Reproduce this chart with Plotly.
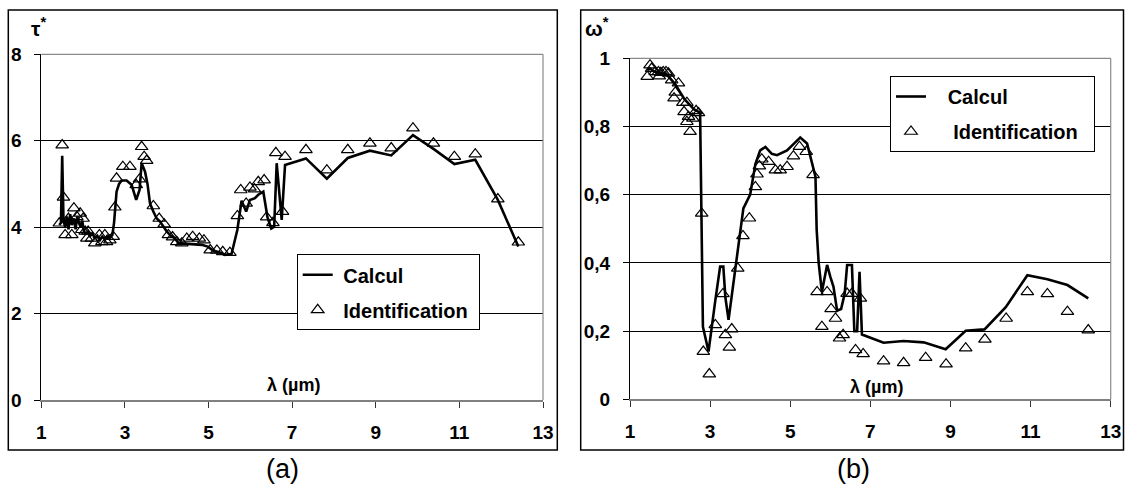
import plotly.graph_objects as go

W, H = 1125, 490

# ---------------- data : panel (a) tau* ----------------
tau_calc_x = [1.43, 1.47, 1.50, 1.53, 1.57, 1.61, 1.65, 1.69, 1.73, 1.78, 1.82, 1.86, 1.90, 1.94, 1.98,
              2.02, 2.07, 2.12, 2.17, 2.22, 2.28, 2.34, 2.40, 2.46, 2.52, 2.58, 2.64, 2.70, 2.74, 2.80,
              2.86, 2.92, 3.04, 3.16, 3.27, 3.35, 3.40, 3.48, 3.54, 3.60, 3.68, 3.76, 3.84, 3.92, 4.00,
              4.10, 4.20, 4.28, 4.40, 4.56, 4.70, 4.84, 4.98, 5.11, 5.25, 5.39, 5.55, 5.69, 5.79, 5.90,
              5.99, 6.11, 6.19, 6.31, 6.41, 6.50, 6.57, 6.63, 6.75, 6.83, 7.33, 7.83, 8.33, 8.86, 9.37,
              9.89, 10.38, 10.88, 11.38, 11.92, 12.41]
tau_calc_y = [4.05, 4.1, 5.65, 4.2, 4.0, 4.25, 3.95, 4.3, 4.05, 4.2, 3.95, 4.25, 4.1, 4.0, 4.15,
              3.9, 3.85, 3.9, 3.8, 3.85, 3.75, 3.8, 3.7, 3.78, 3.72, 3.8, 3.75, 3.82, 4.1, 4.82,
              5.0, 5.08, 5.08, 4.98, 4.63, 4.86, 5.48, 5.29, 5.0, 4.55, 4.36, 4.2, 4.13, 4.0, 3.9,
              3.8, 3.74, 3.63, 3.62, 3.6, 3.6, 3.59, 3.55, 3.46, 3.42, 3.36, 3.38, 3.94, 4.61, 4.36,
              4.63, 4.67, 4.75, 4.82, 4.23, 3.97, 4.01, 5.48, 4.17, 5.44, 5.59, 5.12, 5.6, 5.77, 5.66,
              6.13, 5.81, 5.46, 5.56, 4.63, 3.55]

tau_id_x = [1.43, 1.50, 1.53, 1.57, 1.65, 1.73, 1.78, 1.85, 1.93, 1.97, 2.00, 2.05, 2.09, 2.12, 2.20,
            2.28, 2.39, 2.45, 2.52, 2.56, 2.64, 2.72, 2.76, 2.80, 2.95, 3.12, 3.27, 3.35, 3.40, 3.46,
            3.52, 3.68, 3.82, 3.94, 4.04, 4.14, 4.24, 4.36, 4.48, 4.62, 4.78, 4.89, 5.04, 5.20, 5.34,
            5.51, 5.69, 5.77, 5.90, 5.99, 6.10, 6.19, 6.33, 6.39, 6.54, 6.61, 6.77, 6.83, 7.33, 7.83,
            8.33, 8.86, 9.37, 9.89, 10.38, 10.88, 11.38, 11.92, 12.41]
tau_id_y = [4.09, 5.90, 4.69, 3.82, 4.20, 3.82, 4.44, 4.24, 4.32, 3.94, 4.20, 3.90, 3.74, 3.90, 3.74,
            3.63, 3.82, 3.66, 3.82, 3.66, 3.70, 3.78, 4.46, 5.13, 5.40, 5.40, 4.98, 5.11, 5.86, 5.63,
            5.54, 4.49, 4.20, 4.07, 3.82, 3.77, 3.66, 3.63, 3.74, 3.78, 3.74, 3.70, 3.47, 3.46, 3.43,
            3.41, 4.26, 4.86, 4.55, 4.92, 4.88, 5.05, 5.09, 4.23, 4.10, 5.72, 4.36, 5.63, 5.79, 5.32,
            5.79, 5.94, 5.83, 6.29, 5.94, 5.63, 5.69, 4.65, 3.65]

# ---------------- data : panel (b) omega* ----------------
om_calc_x = [1.43, 1.50, 1.56, 1.63, 1.71, 1.80, 1.90, 1.98, 2.05, 2.12, 2.20, 2.28, 2.36, 2.44, 2.52,
             2.60, 2.68, 2.75, 2.82, 2.96, 3.13, 3.25, 3.33, 3.38, 3.46, 3.57, 3.63, 3.71, 3.83, 4.00,
             4.13, 4.25, 4.38, 4.54, 4.67, 4.92, 5.17, 5.25, 5.42, 5.52, 5.63, 5.66, 5.71, 5.79, 5.92,
             6.00, 6.08, 6.17, 6.27, 6.36, 6.42, 6.54, 6.60, 6.67, 6.73, 6.79, 7.33, 7.83, 8.33, 8.88,
             9.38, 9.85, 10.38, 10.92, 11.42, 11.92, 12.44]
om_calc_y = [0.965, 0.97, 0.965, 0.96, 0.958, 0.955, 0.955, 0.945, 0.935, 0.925, 0.91, 0.895, 0.88, 0.87, 0.86,
             0.85, 0.845, 0.84, 0.213, 0.14, 0.29, 0.389, 0.389, 0.30, 0.233, 0.33, 0.39, 0.46, 0.56, 0.60,
             0.69, 0.73, 0.74, 0.72, 0.716, 0.73, 0.76, 0.768, 0.75, 0.707, 0.653, 0.497, 0.40, 0.315, 0.394,
             0.36, 0.33, 0.26, 0.265, 0.31, 0.394, 0.394, 0.20, 0.20, 0.374, 0.19, 0.166, 0.171, 0.167, 0.147,
             0.201, 0.205, 0.27, 0.364, 0.352, 0.335, 0.296]

om_id_x = [1.43, 1.50, 1.54, 1.63, 1.71, 1.73, 1.77, 1.83, 1.90, 1.96, 2.04, 2.10, 2.13, 2.21, 2.32,
           2.35, 2.42, 2.42, 2.46, 2.50, 2.57, 2.65, 2.71, 2.79, 2.83, 2.98, 3.13, 3.32, 3.38, 3.48,
           3.54, 3.69, 3.82, 3.98, 4.13, 4.17, 4.23, 4.29, 4.46, 4.63, 4.75, 4.92, 5.08, 5.23, 5.40,
           5.57, 5.67, 5.79, 5.92, 6.02, 6.13, 6.23, 6.32, 6.42, 6.54, 6.63, 6.75, 6.82, 7.33, 7.83,
           8.38, 8.89, 9.38, 9.86, 10.39, 10.92, 11.42, 11.92, 12.44]
om_id_y = [0.946, 0.98, 0.97, 0.96, 0.96, 0.948, 0.958, 0.96, 0.96, 0.956, 0.936, 0.883, 0.90, 0.927, 0.87,
           0.843, 0.87, 0.814, 0.829, 0.785, 0.824, 0.846, 0.84, 0.545, 0.14, 0.074, 0.218, 0.309, 0.189, 0.152,
           0.206, 0.384, 0.479, 0.531, 0.623, 0.66, 0.684, 0.704, 0.697, 0.672, 0.672, 0.682, 0.713, 0.741, 0.726,
           0.658, 0.315, 0.213, 0.315, 0.265, 0.237, 0.179, 0.189, 0.31, 0.31, 0.145, 0.296, 0.133, 0.112, 0.107,
           0.122, 0.103, 0.15, 0.176, 0.237, 0.315, 0.309, 0.257, 0.203]

x_ticks = [1, 3, 5, 7, 9, 11, 13]
tau_ticks = [0, 2, 4, 6, 8]
tau_ticktext = ["0", "2", "4", "6", "8"]
om_ticks = [0, 0.2, 0.4, 0.6, 0.8, 1]
om_ticktext = ["0", "0,2", "0,4", "0,6", "0,8", "1"]

series_names = ["Calcul", "Identification"]

FONT = "Liberation Sans, Arial, sans-serif"
NB = "\u00a0"

def px(xp):
    return xp / W

def py(yp):
    return 1 - yp / H

fig = go.Figure()

line_style = dict(color="black", width=2.6)
mk_style = dict(symbol="triangle-up-open", size=11, color="black", line=dict(width=1.2, color="black"))

fig.add_trace(go.Scatter(x=tau_calc_x, y=tau_calc_y, mode="lines", name=NB + series_names[0],
                         line=line_style, xaxis="x", yaxis="y", legend="legend", legendgroup="a1"))
fig.add_trace(go.Scatter(x=tau_id_x, y=tau_id_y, mode="markers", name=NB + series_names[1] + NB,
                         marker=mk_style, xaxis="x", yaxis="y", legend="legend", legendgroup="a2"))
fig.add_trace(go.Scatter(x=om_calc_x, y=om_calc_y, mode="lines", name=NB * 3 + series_names[0],
                         line=line_style, xaxis="x2", yaxis="y2", legend="legend2", legendgroup="b1"))
fig.add_trace(go.Scatter(x=om_id_x, y=om_id_y, mode="markers", name=NB * 4 + series_names[1] + NB * 2,
                         marker=mk_style, xaxis="x2", yaxis="y2", legend="legend2", legendgroup="b2"))

tick_font = dict(family=FONT, size=19, color="black", weight="bold")

def xaxis(domain, anchor):
    return dict(domain=domain, anchor=anchor, range=[1, 13], tickvals=x_ticks,
                ticks="outside", ticklen=6, tickcolor="#333", tickwidth=1,
                showline=True, linecolor="#808080", linewidth=2,
                showgrid=False, zeroline=False, tickfont=tick_font,
                ticklabelstandoff=8, fixedrange=True, automargin=False)

def yaxis(domain, anchor, rng, vals, txt):
    return dict(domain=domain, anchor=anchor, range=rng, tickvals=vals, ticktext=txt,
                ticks="outside", ticklen=6, tickcolor="black", tickwidth=1,
                showline=True, linecolor="black", linewidth=1,
                showgrid=True, gridcolor="black", gridwidth=1,
                zeroline=False, tickfont=tick_font, ticklabelstandoff=9, fixedrange=True,
                automargin=False)

legend_font = dict(family=FONT, size=20, color="black", weight="bold")

fig.update_layout(
    width=W, height=H,
    margin=dict(l=0, r=0, t=0, b=0, pad=0, autoexpand=False),
    paper_bgcolor="white", plot_bgcolor="white",
    font=dict(family=FONT, color="black"),
    xaxis=xaxis([px(41.3), px(543)], "y"),
    yaxis=yaxis([py(400), py(54.3)], "x", [0, 8], tau_ticks, tau_ticktext),
    xaxis2=xaxis([px(630), px(1110.7)], "y2"),
    yaxis2=yaxis([py(399.3), py(58.3)], "x2", [0, 1], om_ticks, om_ticktext),
    legend=dict(x=px(296.7), y=py(254.3), xanchor="left", yanchor="top",
                bgcolor="white", bordercolor="black", borderwidth=1,
                font=legend_font, traceorder="grouped", tracegroupgap=6, itemwidth=30),
    legend2=dict(x=px(890), y=py(76), xanchor="left", yanchor="top",
                 bgcolor="white", bordercolor="black", borderwidth=1,
                 font=legend_font, traceorder="grouped", tracegroupgap=6, itemwidth=30),
    showlegend=True,
)

shapes = []
# outer frames of the two panels
for x0, x1 in [(8.3, 557.3), (580.7, 1123.5)]:
    shapes.append(dict(type="rect", xref="paper", yref="paper", x0=px(x0), x1=px(x1),
                       y0=py(450), y1=py(10), line=dict(color="black", width=1.5), layer="below"))
# gray plot-area border (top and right edges)
for xr, yr in [("x domain", "y domain"), ("x2 domain", "y2 domain")]:
    shapes.append(dict(type="line", xref=xr, yref=yr, x0=0, x1=1, y0=1, y1=1,
                       line=dict(color="#8a8a8a", width=1.2), layer="above"))
    shapes.append(dict(type="line", xref=xr, yref=yr, x0=1, x1=1, y0=0, y1=1,
                       line=dict(color="#8a8a8a", width=1.2), layer="above"))
fig.update_layout(shapes=shapes)

def note(text, xp, yp, size):
    return dict(text=text, x=px(xp), y=py(yp), xref="paper", yref="paper",
                xanchor="center", yanchor="middle", showarrow=False,
                font=dict(family=FONT, size=size, color="black"))

ann = [
    note("<b>τ</b><sup><b>*</b></sup>", 38, 27, 21),
    note("<b>ω</b><sup><b>*</b></sup>", 597, 27, 21),
    note("<b>λ (µm)</b>", 294, 385, 18),
    note("<b>λ (µm)</b>", 876, 387, 18),
    note("(a)", 282, 469, 27),
    note("(b)", 853, 469, 27),
]
fig.update_layout(annotations=ann)

fig.write_html("out.html", config={"displayModeBar": False},
               post_script="document.body.style.margin='0px';document.body.style.overflow='hidden';")
